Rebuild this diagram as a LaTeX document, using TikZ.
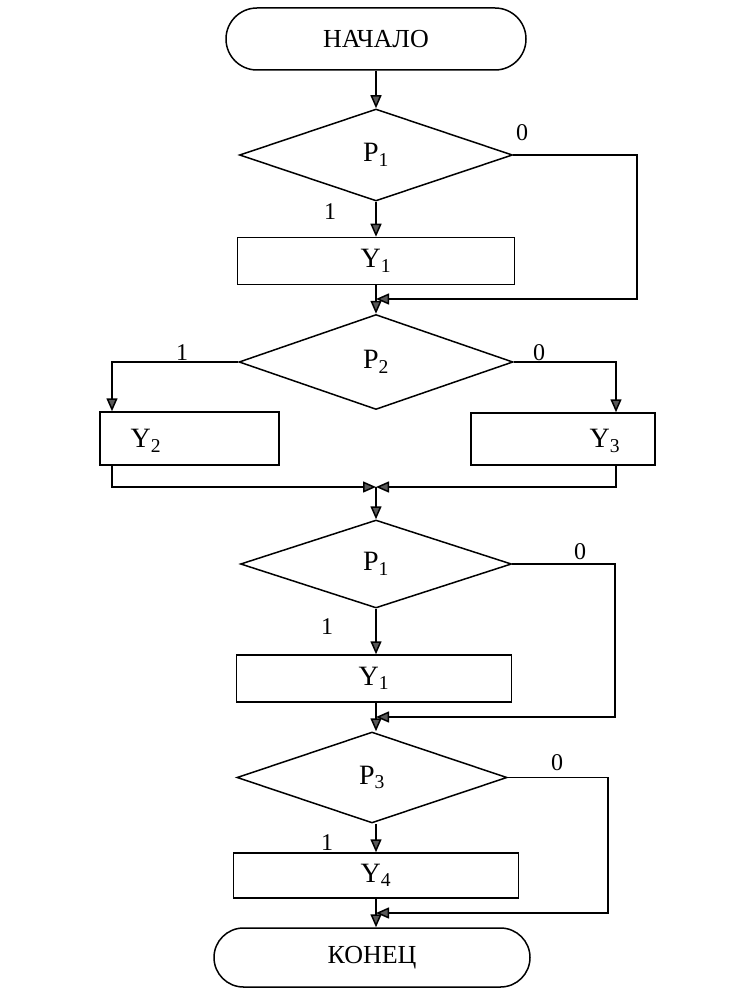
\documentclass[tikz,border=0pt]{standalone}
\usepackage{fontspec}
\setmainfont{Liberation Serif}
\usetikzlibrary{shapes.geometric,shapes.misc,arrows.meta}
\begin{document}
\begin{tikzpicture}[x=1pt,y=-1pt,
  line/.style={line width=1.5pt},
  arr/.style={line width=1.5pt,-{Triangle[length=13pt,width=11pt,fill=black!65]}},
  term/.style={rounded rectangle,draw,line width=1.5pt,inner sep=0pt,font=\fontsize{26}{28}\selectfont},
  dec/.style={diamond,draw,line width=1.5pt,inner sep=0pt,font=\fontsize{28}{30}\selectfont},
  proc/.style={rectangle,draw,line width=1.5pt,inner sep=0pt,font=\fontsize{28}{30}\selectfont},
  txt/.style={inner sep=0pt,font=\fontsize{28}{30}\selectfont},
  lab/.style={inner sep=0pt,font=\fontsize{24}{26}\selectfont}
]
\useasboundingbox (0,0) rectangle (746,992);
\fill[white] (0,0) rectangle (746,992);

% nodes
\node[term,minimum width=300pt,minimum height=62pt] (start) at (376,39) {НАЧАЛО};
\node[dec,minimum width=273pt,minimum height=92pt] (p1) at (376,155) {P\textsubscript{1}};
\node[proc,minimum width=277pt,minimum height=47pt] (y1) at (376,261) {Y\textsubscript{1}};
\node[dec,minimum width=274pt,minimum height=95pt] (p2) at (376,362) {P\textsubscript{2}};
\node[proc,minimum width=179pt,minimum height=53pt] (y2) at (189.5,438.5) {};
\node[txt] (y2t) at (146,441) {Y\textsubscript{2}};
\node[proc,minimum width=184pt,minimum height=52pt] (y3) at (563,439) {};
\node[txt] (y3t) at (605,441) {Y\textsubscript{3}};
\node[dec,minimum width=271pt,minimum height=88pt] (p1b) at (376,564) {P\textsubscript{1}};
\node[proc,minimum width=275pt,minimum height=47pt] (y1b) at (374,678.5) {Y\textsubscript{1}};
\node[dec,minimum width=270pt,minimum height=91pt] (p3) at (372,777.5) {P\textsubscript{3}};
\node[proc,minimum width=285pt,minimum height=45pt] (y4) at (376,875.5) {Y\textsubscript{4}};
\node[term,minimum width=316pt,minimum height=59pt] (end) at (372,957.5) {КОНЕЦ};

% branch labels
\node[lab] (l0a) at (522,133) {0};
\node[lab] (l1a) at (330,212) {1};
\node[lab] (l1b) at (182,353) {1};
\node[lab] (l0b) at (539,353) {0};
\node[lab] (l0c) at (580,552) {0};
\node[lab] (l1c) at (327,627) {1};
\node[lab] (l0d) at (557,763) {0};
\node[lab] (l1d) at (327,843) {1};

% helper coordinates
\coordinate (c) at (376,0);
\coordinate (k1) at (637,299);
\coordinate (m1) at (c |- k1);
\coordinate (a2) at (112,0);
\coordinate (a3) at (616,0);
\coordinate (j2) at (112,487);
\coordinate (j3) at (616,487);
\coordinate (mj) at (c |- j2);
\coordinate (k3) at (615,717);
\coordinate (m3) at (c |- k3);
\coordinate (k4) at (608,913);
\coordinate (m4) at (c |- k4);

% connectors
\draw[arr] (start.south) -- (c |- p1.north);
\draw[arr] (p1.south) -- (c |- y1.north);
\draw[arr] (y1.south -| c) -- (c |- p2.north);
\draw[arr] (p1.east) -| (k1) -- (m1);

\draw[arr] (p2.west) -| (a2 |- y2.north);
\draw[arr] (p2.east) -| (a3 |- y3.north);
\draw[arr] (a2 |- y2.south) -- (j2) -- (mj);
\draw[arr] (a3 |- y3.south) -- (j3) -- (mj);
\draw[arr] (mj) -- (p1b.north);

\draw[arr] (p1b.south) -- (c |- y1b.north);
\draw[arr] (c |- y1b.south) -- (p3.north -| c);
\draw[arr] (p1b.east) -| (k3) -- (m3);

\draw[arr] (c |- p3.south) -- (y4.north);
\draw[arr] (y4.south) -- (c |- end.north);
\draw[arr] (p3.east) -| (k4) -- (m4);
\end{tikzpicture}
\end{document}
